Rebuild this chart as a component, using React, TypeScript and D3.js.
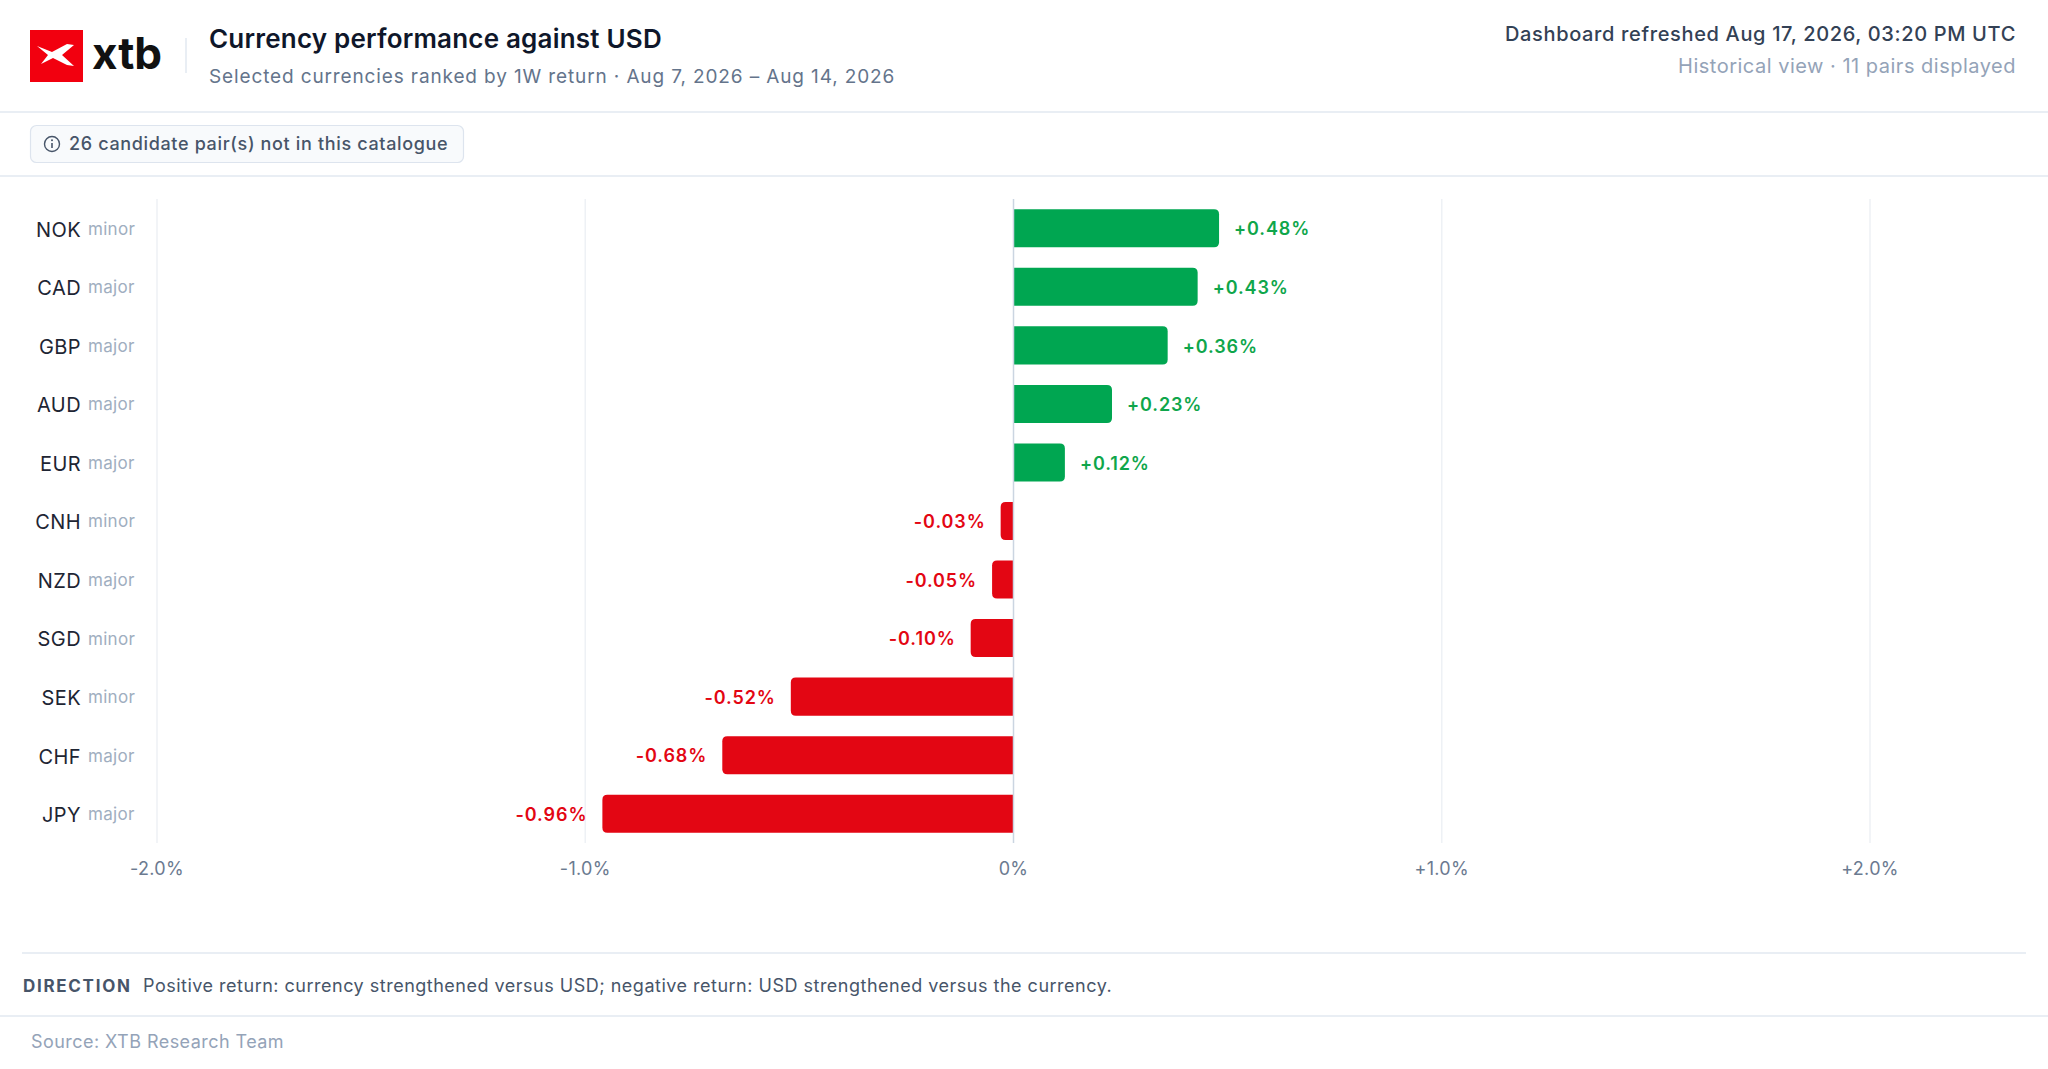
import React, { useEffect, useRef } from "react";
import * as d3 from "d3";

const codes = ["NOK", "CAD", "GBP", "AUD", "EUR", "CNH", "NZD", "SGD", "SEK", "CHF", "JPY"];
const tiers = ["minor", "major", "major", "major", "major", "minor", "major", "minor", "minor", "major", "major"];
const returns1w = [0.48, 0.43, 0.36, 0.23, 0.12, -0.03, -0.05, -0.1, -0.52, -0.68, -0.96];
const xTicks = [-2, -1, 0, 1, 2];

const WIDTH = 2048;
const HEIGHT = 1069;
const FONT = "Inter, 'Noto Sans', sans-serif";
const GREEN = "#00a651";
const GREEN_TEXT = "#0fa64b";
const RED = "#e30613";

// bar with rounded corners only on the outer end
function barPath(x0: number, x1: number, y: number, h: number, r: number) {
  const rr = Math.min(r, Math.abs(x1 - x0) / 2, h / 2);
  if (x1 >= x0) {
    return `M${x0},${y}H${x1 - rr}Q${x1},${y} ${x1},${y + rr}V${y + h - rr}Q${x1},${y + h} ${x1 - rr},${y + h}H${x0}Z`;
  }
  return `M${x0},${y}H${x1 + rr}Q${x1},${y} ${x1},${y + rr}V${y + h - rr}Q${x1},${y + h} ${x1 + rr},${y + h}H${x0}Z`;
}

const App: React.FC = () => {
  const svgRef = useRef<SVGSVGElement>(null);

  useEffect(() => {
    document.body.style.margin = "0";
    if (!svgRef.current) return;
    const svg = d3.select(svgRef.current);
    svg.selectAll("*").remove();

    svg.append("rect").attr("width", WIDTH).attr("height", HEIGHT).attr("fill", "#ffffff");

    // header
    const head = svg.append("g").style("font-family", FONT);
    head.append("rect").attr("x", 30).attr("y", 30).attr("width", 53).attr("height", 52).attr("fill", "#f2000f");
    head
      .append("path")
      .attr("d", "M37,46 L52,52 L67,44 L74,45 L62,55 L74,66 L67,65 L53,58 L41,64 L48,55 Z")
      .attr("fill", "#ffffff");
    head
      .append("text")
      .attr("x", 92)
      .attr("y", 69)
      .style("font-size", "44px")
      .style("font-weight", "700")
      .style("fill", "#111111")
      .text("xtb");
    head.append("line").attr("x1", 186).attr("x2", 186).attr("y1", 38).attr("y2", 73).attr("stroke", "#e2e8f0").attr("stroke-width", 1.5);

    head
      .append("text")
      .attr("x", 209)
      .attr("y", 48)
      .style("font-size", "26px")
      .style("font-weight", "600")
      .style("letter-spacing", "0.2px")
      .style("fill", "#0f172a")
      .text("Currency performance against USD");
    head
      .append("text")
      .attr("x", 209)
      .attr("y", 83)
      .style("font-size", "19px")
      .style("letter-spacing", "0.87px")
      .style("fill", "#64748b")
      .text("Selected currencies ranked by 1W return · Aug 7, 2026 – Aug 14, 2026");

    head
      .append("text")
      .attr("x", 2016)
      .attr("y", 41)
      .attr("text-anchor", "end")
      .style("font-size", "20px")
      .style("font-weight", "500")
      .style("letter-spacing", "0.65px")
      .style("fill", "#334155")
      .text("Dashboard refreshed Aug 17, 2026, 03:20 PM UTC");
    head
      .append("text")
      .attr("x", 2016)
      .attr("y", 73)
      .attr("text-anchor", "end")
      .style("font-size", "20px")
      .style("letter-spacing", "0.5px")
      .style("fill", "#94a3b8")
      .text("Historical view · 11 pairs displayed");

    svg.append("line").attr("x1", 0).attr("x2", WIDTH).attr("y1", 112).attr("y2", 112).attr("stroke", "#e2e8f0").attr("stroke-width", 1.5);

    // chip
    const chip = svg.append("g").style("font-family", FONT);
    chip
      .append("rect")
      .attr("x", 30.5)
      .attr("y", 125.5)
      .attr("width", 433)
      .attr("height", 37)
      .attr("rx", 6)
      .attr("fill", "#f8fafc")
      .attr("stroke", "#dde4ee")
      .attr("stroke-width", 1.2);
    chip.append("circle").attr("cx", 52).attr("cy", 144).attr("r", 7.5).attr("fill", "none").attr("stroke", "#475569").attr("stroke-width", 1.4);
    chip.append("line").attr("x1", 52).attr("x2", 52).attr("y1", 143).attr("y2", 148).attr("stroke", "#475569").attr("stroke-width", 1.6);
    chip.append("circle").attr("cx", 52).attr("cy", 140.2).attr("r", 1).attr("fill", "#475569");
    chip
      .append("text")
      .attr("x", 69)
      .attr("y", 150)
      .style("font-size", "18px")
      .style("font-weight", "500")
      .style("letter-spacing", "0.65px")
      .style("fill", "#475569")
      .text("26 candidate pair(s) not in this catalogue");

    svg.append("line").attr("x1", 0).attr("x2", WIDTH).attr("y1", 176).attr("y2", 176).attr("stroke", "#e2e8f0").attr("stroke-width", 1.5);

    // chart
    const x = d3.scaleLinear().domain([-2, 2]).range([157, 1870]);
    const y = d3.scaleBand<string>().domain(codes).range([199, 843]).paddingInner(0.35).paddingOuter(0.175);
    const plotTop = 199;
    const plotBottom = 843;

    const chart = svg.append("g").style("font-family", FONT);

    chart
      .selectAll(".grid")
      .data(xTicks.filter((t) => t !== 0))
      .enter()
      .append("line")
      .attr("x1", (d) => x(d))
      .attr("x2", (d) => x(d))
      .attr("y1", plotTop)
      .attr("y2", plotBottom)
      .attr("stroke", "#eef1f5")
      .attr("stroke-width", 1.5);

    const fmtTick = (d: number) => (d === 0 ? "0%" : `${d > 0 ? "+" : "-"}${Math.abs(d).toFixed(1)}%`);
    chart
      .selectAll(".tick")
      .data(xTicks)
      .enter()
      .append("text")
      .attr("x", (d) => x(d))
      .attr("y", 875)
      .attr("text-anchor", "middle")
      .style("font-size", "18px")
      .style("letter-spacing", "0.3px")
      .style("fill", "#6b7a90")
      .text(fmtTick);

    const rows = codes.map((c, i) => ({ code: c, tier: tiers[i], value: returns1w[i] }));

    chart
      .selectAll(".bar")
      .data(rows)
      .enter()
      .append("path")
      .attr("d", (d) => barPath(x(0), x(d.value), y(d.code)!, y.bandwidth(), 5))
      .attr("fill", (d) => (d.value >= 0 ? GREEN : RED));

    chart
      .append("line")
      .attr("x1", x(0))
      .attr("x2", x(0))
      .attr("y1", plotTop)
      .attr("y2", plotBottom)
      .attr("stroke", "#cbd5e1")
      .attr("stroke-width", 1.5);

    const fmtVal = (v: number) => `${v >= 0 ? "+" : "-"}${Math.abs(v).toFixed(2)}%`;
    chart
      .selectAll(".val")
      .data(rows)
      .enter()
      .append("text")
      .attr("x", (d) => x(d.value) + (d.value >= 0 ? 15 : -15))
      .attr("y", (d) => y(d.code)! + y.bandwidth() / 2)
      .attr("dy", "0.4em")
      .attr("text-anchor", (d) => (d.value >= 0 ? "start" : "end"))
      .style("font-size", "18px")
      .style("font-weight", "600")
      .style("letter-spacing", "0.9px")
      .style("fill", (d) => (d.value >= 0 ? GREEN_TEXT : RED))
      .text((d) => fmtVal(d.value));

    const labels = chart.selectAll(".lab").data(rows).enter().append("g");
    labels
      .append("text")
      .attr("x", 81)
      .attr("y", (d) => y(d.code)! + y.bandwidth() / 2)
      .attr("dy", "0.42em")
      .attr("text-anchor", "end")
      .style("font-size", "20px")
      .style("font-weight", "400")
      .style("letter-spacing", "0.4px")
      .style("fill", "#1e2533")
      .text((d) => d.code);
    labels
      .append("text")
      .attr("x", 88)
      .attr("y", (d) => y(d.code)! + y.bandwidth() / 2)
      .attr("dy", "0.38em")
      .style("font-size", "17px")
      .style("letter-spacing", "0.3px")
      .style("fill", "#a0aec0")
      .text((d) => d.tier);

    // footer
    const foot = svg.append("g").style("font-family", FONT);
    foot.append("line").attr("x1", 22).attr("x2", 2026).attr("y1", 953).attr("y2", 953).attr("stroke", "#e2e8f0").attr("stroke-width", 1.5);
    foot
      .append("text")
      .attr("x", 23)
      .attr("y", 992)
      .style("font-size", "17px")
      .style("font-weight", "700")
      .style("letter-spacing", "1.7px")
      .style("fill", "#475569")
      .text("DIRECTION");
    foot
      .append("text")
      .attr("x", 143)
      .attr("y", 992)
      .style("font-size", "18px")
      .style("letter-spacing", "0.5px")
      .style("fill", "#475569")
      .text("Positive return: currency strengthened versus USD; negative return: USD strengthened versus the currency.");
    foot.append("line").attr("x1", 0).attr("x2", WIDTH).attr("y1", 1016).attr("y2", 1016).attr("stroke", "#e2e8f0").attr("stroke-width", 1.5);
    foot
      .append("text")
      .attr("x", 31)
      .attr("y", 1048)
      .style("font-size", "18px")
      .style("letter-spacing", "0.45px")
      .style("fill", "#94a3b8")
      .text("Source: XTB Research Team");
  }, []);

  return <svg ref={svgRef} width={WIDTH} height={HEIGHT} style={{ display: "block" }} />;
};

export default App;
